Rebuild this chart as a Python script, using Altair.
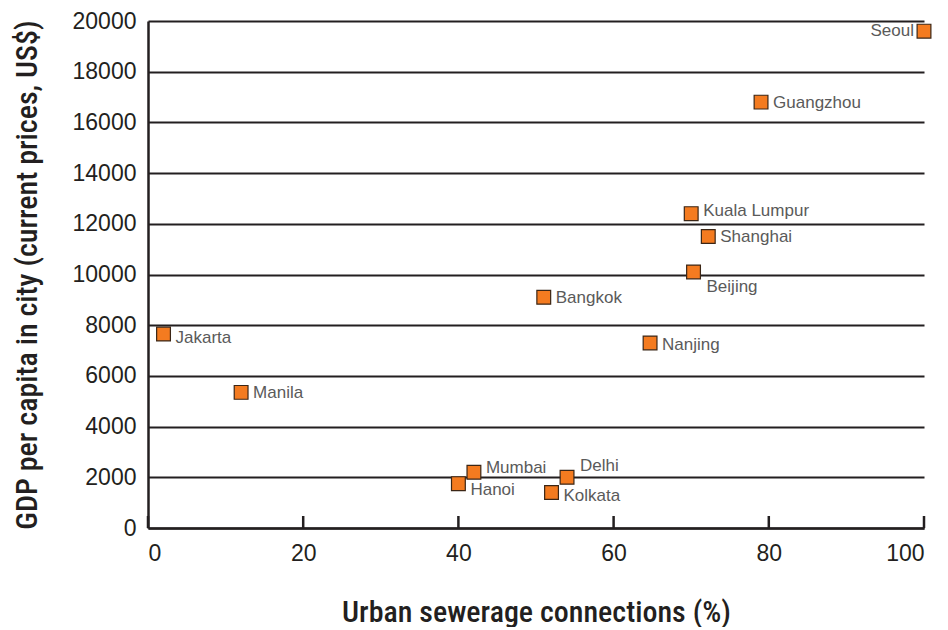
import altair as alt
import pandas as pd

# ---- data ----
cities = ["Seoul", "Guangzhou", "Kuala Lumpur", "Shanghai", "Beijing", "Bangkok",
          "Nanjing", "Jakarta", "Manila", "Mumbai", "Hanoi", "Delhi", "Kolkata"]
sewerage_pct = [100, 79, 70, 72.2, 70.3, 51, 64.7, 2, 12, 42, 40, 54, 52]
gdp_per_capita = [19600, 16800, 12400, 11500, 10100, 9100, 7300, 7650, 5350,
                  2200, 1750, 2000, 1400]
x_tick_values = [0, 20, 40, 60, 80, 100]
y_tick_values = [0, 2000, 4000, 6000, 8000, 10000, 12000, 14000, 16000, 18000, 20000]

# label placement (style, in pixels): dx, dy, align
label_place = {
    "Seoul": (-10, 0, "right"),
    "Guangzhou": (12, 1, "left"),
    "Kuala Lumpur": (12, -3, "left"),
    "Shanghai": (12, 1, "left"),
    "Beijing": (13, 15, "left"),
    "Bangkok": (12, 1, "left"),
    "Nanjing": (12, 2, "left"),
    "Jakarta": (12, 4, "left"),
    "Manila": (12, 1, "left"),
    "Mumbai": (12, -4, "left"),
    "Hanoi": (12, 6, "left"),
    "Delhi": (13, -11, "left"),
    "Kolkata": (12, 3, "left"),
}

W, H = 776, 507
INK = "#231f20"
ORANGE = "#f47b20"
TITLE_FONT = "Roboto Condensed, Noto Sans Condensed, Roboto, sans-serif"

df = pd.DataFrame({"city": cities, "sew": sewerage_pct, "gdp": gdp_per_capita})
ticks_df = pd.DataFrame({"t": x_tick_values})

x_scale = alt.Scale(domain=[0, 100], nice=False)
y_scale = alt.Scale(domain=[0, 20000], nice=False)

x_enc = alt.X("sew:Q", scale=x_scale,
              axis=alt.Axis(values=x_tick_values, title="Urban sewerage connections (%)",
                            ticks=False, grid=False, domain=True, format="d"))
y_enc = alt.Y("gdp:Q", scale=y_scale,
              axis=alt.Axis(values=y_tick_values, format="d",
                            title="GDP per capita in city (current prices, US$)",
                            ticks=False, grid=True, domain=True))

points = alt.Chart(df).mark_point(
    shape="square", filled=True, size=190, fill=ORANGE, stroke="#3b2616",
    strokeWidth=1.2, opacity=1
).encode(x=x_enc, y=y_enc)

x_ticks = alt.Chart(ticks_df).mark_rule(color=INK, strokeWidth=2.5).encode(
    x=alt.X("t:Q", scale=x_scale),
    y=alt.value(H),
    y2=alt.value(H - 12),
)

label_layers = []
for city, (dx, dy, align) in label_place.items():
    label_layers.append(
        alt.Chart(df).transform_filter(alt.datum.city == city).mark_text(
            dx=dx, dy=dy, align=align, baseline="middle", fontSize=17,
            font="Liberation Sans", color="#5a5a5a"
        ).encode(x=alt.X("sew:Q", scale=x_scale), y=alt.Y("gdp:Q", scale=y_scale),
                 text="city:N")
    )

chart = alt.layer(x_ticks, points, *label_layers).properties(
    width=W, height=H,
    padding={"left": 4, "top": 2, "right": 0, "bottom": 0},
).configure_view(stroke=None).configure_axis(
    domainColor=INK, domainWidth=2.5, gridColor=INK, gridWidth=2, gridOpacity=1,
    labelFont="Liberation Sans", labelFontSize=23, labelColor=INK,
    titleFont=TITLE_FONT,
    titleFontSize=30, titleFontWeight=500, titleColor=INK,
).configure_axisX(
    labelPadding=14, titlePadding=32
).configure_axisY(
    labelPadding=12, titlePadding=30
)

chart.save("out.html", embed_options={"renderer": "svg", "actions": False})
